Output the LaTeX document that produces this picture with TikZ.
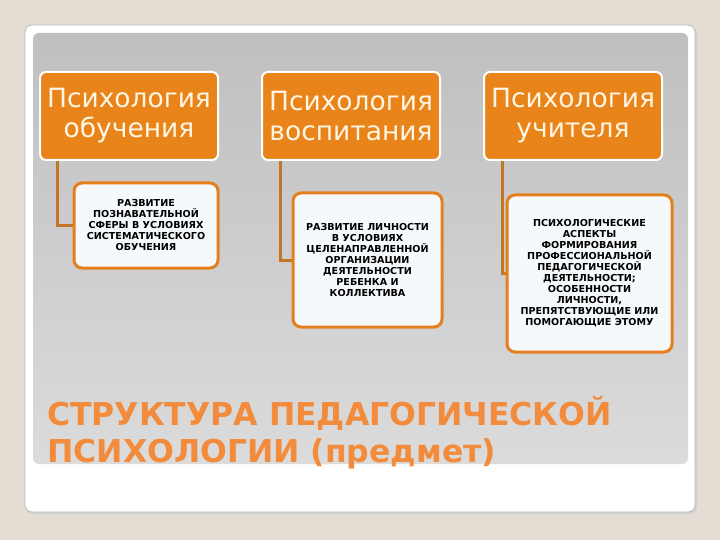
\documentclass[tikz,border=0pt]{standalone}
\usepackage{fontspec}
\setmainfont{DejaVu Sans}
\definecolor{bgbeige}{HTML}{E3DDD4}
\definecolor{hdrorange}{HTML}{E8841A}
\definecolor{cborder}{HTML}{E57F1E}
\definecolor{conncol}{HTML}{C27628}
\definecolor{titleorange}{HTML}{F28C3C}
\definecolor{hdrtext}{HTML}{FFF6E4}
\definecolor{childfill}{HTML}{F6F9FB}
\pgfdeclarelayer{slide}
\pgfdeclarelayer{links}
\pgfsetlayers{slide,links,main}
\begin{document}
\begin{tikzpicture}[x=1pt,y=-1pt,
  hdr/.style={draw=white,line width=2pt,fill=hdrorange,rounded corners=6pt,
    minimum width=178pt,minimum height=88pt,inner sep=0pt,align=center,
    text=hdrtext,font=\fontsize{26.5}{30}\selectfont},
  child/.style={draw=cborder,line width=3pt,fill=childfill,rounded corners=8pt,
    inner sep=0pt,align=center,font=\bfseries\fontsize{9.6}{11}\selectfont},
  conn/.style={draw=conncol,line width=3pt},
  ttl/.style={anchor=base west,inner sep=0pt,text=titleorange,
    font=\bfseries\fontsize{31.5}{37}\selectfont}]
\useasboundingbox (0,0) rectangle (720,540);
\begin{pgfonlayer}{slide}
\fill[bgbeige] (0,0) rectangle (720,540);
\fill[black!18,rounded corners=7pt] (26,27) rectangle (697,514);
\draw[gray!55,fill=white,rounded corners=7pt,line width=0.8pt] (25,25) rectangle (695,512);
\shade[top color=black!25,bottom color=black!14,rounded corners=6pt] (33,33) rectangle (688,464);
\end{pgfonlayer}
% header nodes
\node[hdr] (h1) at (129,116) {Психология\\обучения};
\node[hdr] (h2) at (351,116) {Психология\\воспитания};
\node[hdr] (h3) at (573,116) {Психология\\учителя};
% child nodes
\node[child,minimum width=144pt,minimum height=85pt] (c1) at (146,225.5)
  {РАЗВИТИЕ\\ПОЗНАВАТЕЛЬНОЙ\\СФЕРЫ В УСЛОВИЯХ\\СИСТЕМАТИЧЕСКОГО\\ОБУЧЕНИЯ};
\node[child,minimum width=149pt,minimum height=134pt] (c2) at (367.5,260)
  {РАЗВИТИЕ ЛИЧНОСТИ\\В УСЛОВИЯХ\\ЦЕЛЕНАПРАВЛЕННОЙ\\ОРГАНИЗАЦИИ\\ДЕЯТЕЛЬНОСТИ\\РЕБЕНКА И\\КОЛЛЕКТИВА};
\node[child,minimum width=165pt,minimum height=157pt] (c3) at (589.5,273.5)
  {ПСИХОЛОГИЧЕСКИЕ\\АСПЕКТЫ\\ФОРМИРОВАНИЯ\\ПРОФЕССИОНАЛЬНОЙ\\ПЕДАГОГИЧЕСКОЙ\\ДЕЯТЕЛЬНОСТИ;\\ОСОБЕННОСТИ\\ЛИЧНОСТИ,\\ПРЕПЯТСТВУЮЩИЕ ИЛИ\\ПОМОГАЮЩИЕ ЭТОМУ};
% connectors
\begin{pgfonlayer}{links}
\draw[conn] ([xshift=-72pt]h1.south) |- (c1.west);
\draw[conn] ([xshift=-71pt]h2.south) |- (c2.west);
\draw[conn] ([xshift=-71pt]h3.south) |- (c3.west);
\end{pgfonlayer}
% title
\node[ttl] (t1) at (47,425) {СТРУКТУРА ПЕДАГОГИЧЕСКОЙ};
\node[ttl] (t2) at (47,462) {ПСИХОЛОГИИ (предмет)};
\end{tikzpicture}
\end{document}
